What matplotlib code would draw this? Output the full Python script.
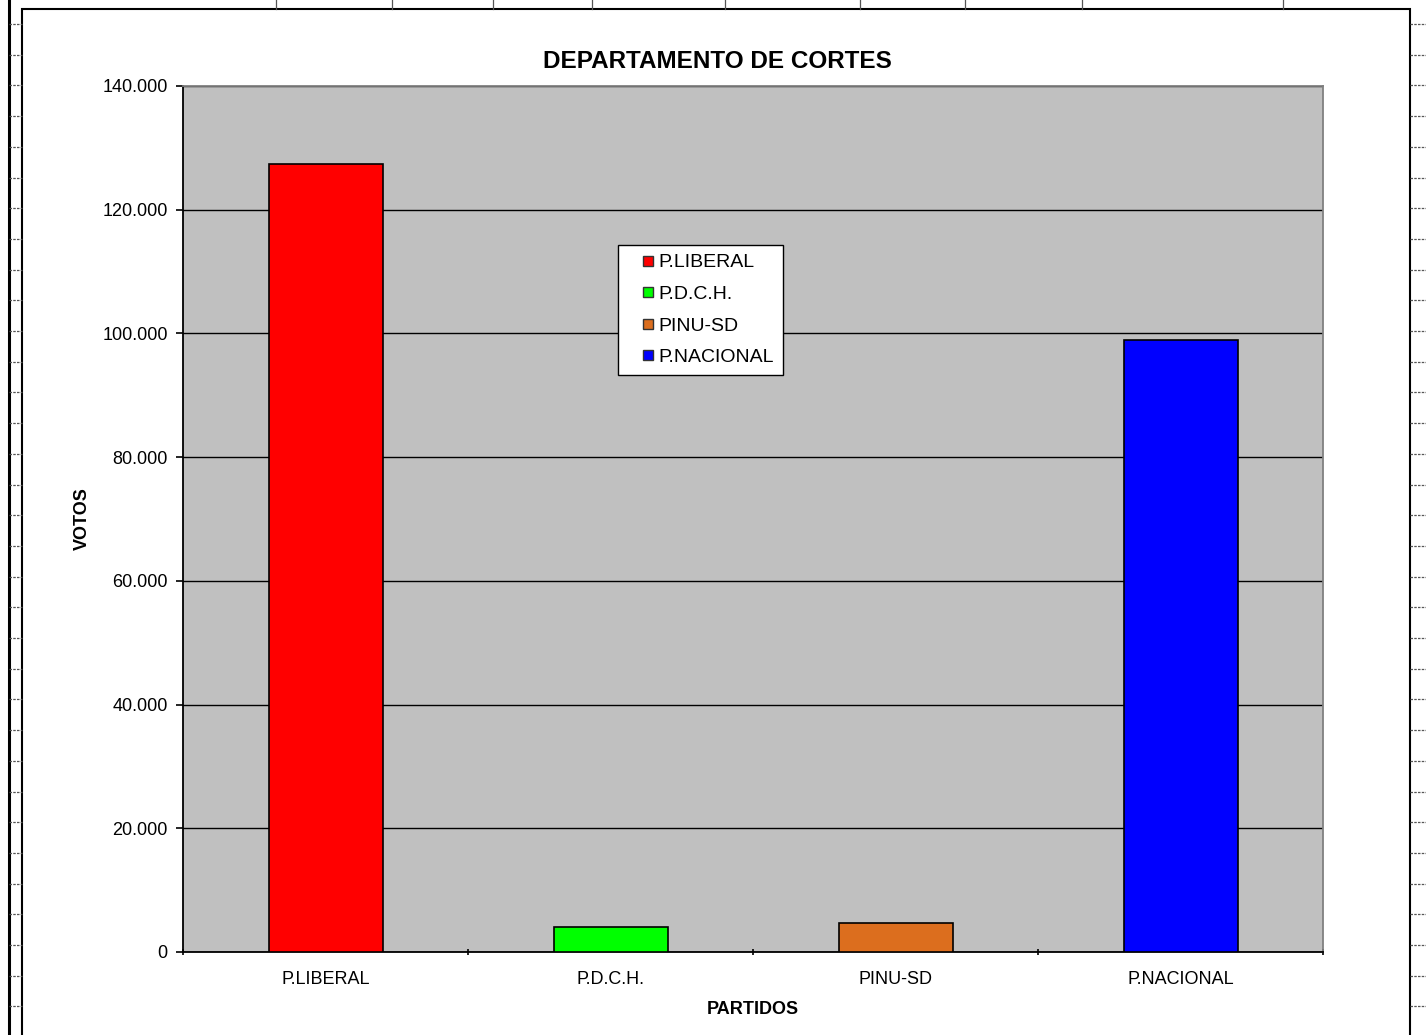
import numpy as np
import matplotlib.pyplot as plt
from matplotlib.patches import Patch, Rectangle
from matplotlib.lines import Line2D
from matplotlib.legend_handler import HandlerPatch
from matplotlib.ticker import FuncFormatter

plt.rcParams['font.family'] = ['Liberation Sans', 'DejaVu Sans']

partidos = ['P.LIBERAL', 'P.D.C.H.', 'PINU-SD', 'P.NACIONAL']
votos = [127400, 4050, 4700, 98950]
colores = ['#FF0000', '#00FF00', '#DC6E1E', '#0000FF']
yticks = np.arange(0, 140001, 20000)

W, H = 1426, 1035
fig = plt.figure(figsize=(W / 100, H / 100), dpi=100)

def fx(px):
	return px / W

def fy(py):
	return 1 - py / H

# spreadsheet background bits around the chart
fig.add_artist(Line2D([fx(8.5), fx(8.5)], [0, 1], color='black', lw=2.2))
fig.add_artist(Rectangle((fx(22), fy(1040)), fx(1410) - fx(22), fy(9) - fy(1040),
	transform=fig.transFigure, fill=False, edgecolor='black', lw=1.5))
for py in np.arange(24, H, 30.7):
	fig.add_artist(Line2D([fx(9), fx(22)], [fy(py), fy(py)], color='#555555', lw=0.9, ls=(0, (2, 1))))
	fig.add_artist(Line2D([fx(1410), fx(1426)], [fy(py), fy(py)], color='#555555', lw=0.9, ls=(0, (2, 1))))
for px in [276, 392, 493, 592, 725, 860, 965, 1082, 1283]:
	fig.add_artist(Line2D([fx(px), fx(px)], [fy(0), fy(9)], color='#555555', lw=0.9))

ax = fig.add_axes([fx(183), fy(952), fx(1323) - fx(183), fy(86) - fy(952)])
ax.set_facecolor('#C0C0C0')
x = np.arange(len(partidos))
ax.bar(x, votos, width=0.4, color=colores, edgecolor='black', linewidth=1.2, zorder=3)
ax.set_xlim(-0.5, len(partidos) - 0.5)
ax.set_ylim(0, 140000)
ax.set_yticks(yticks)
ax.yaxis.set_major_formatter(FuncFormatter(lambda v, p: '{:,.0f}'.format(v).replace(',', '.')))
ax.set_xticks(x)
ax.set_xticklabels(partidos)
ax.set_xticks(np.arange(-0.5, len(partidos)), minor=True)
ax.tick_params(axis='x', which='major', length=0, labelsize=13, pad=14)
ax.tick_params(axis='x', which='minor', length=5, width=1.2, direction='inout')
ax.tick_params(axis='y', length=5, width=1.2, direction='out', labelsize=13, pad=6)
ax.grid(axis='y', color='black', lw=1, zorder=1)
for s in ['left', 'bottom']:
	ax.spines[s].set_color('black')
	ax.spines[s].set_linewidth(1.3)
for s in ['top', 'right']:
	ax.spines[s].set_color('#808080')
	ax.spines[s].set_linewidth(1.3)

fig.text(fx(717), fy(61.5), 'DEPARTAMENTO DE CORTES', fontsize=17.5, fontweight='bold', ha='center', va='center')
ax.set_xlabel('PARTIDOS', fontsize=13, fontweight='bold', labelpad=9)
ax.set_ylabel('VOTOS', fontsize=13, fontweight='bold', labelpad=8)

def small_square(legend, orig_handle, xdescent, ydescent, width, height, fontsize):
	s = 7.2
	return Rectangle((-xdescent + width - s - 3.6, -ydescent + (height - s) / 2), s, s)

handles = [Patch(facecolor=c, edgecolor='#333333', label=p) for p, c in zip(partidos, colores)]
leg = ax.legend(handles=handles, loc='upper left', bbox_to_anchor=((618 - 183) / 1140, (952 - 245) / 866),
	fontsize=14, frameon=True, fancybox=False, handlelength=1.6, handleheight=0.7,
	handletextpad=0.05, labelspacing=0.72, borderpad=0.45, borderaxespad=0,
	handler_map={Patch: HandlerPatch(patch_func=small_square)})
leg.get_frame().set_edgecolor('black')
leg.get_frame().set_linewidth(1)
leg.get_frame().set_facecolor('white')
leg.get_frame().set_alpha(1)

fig.savefig('out.png', dpi=100)
